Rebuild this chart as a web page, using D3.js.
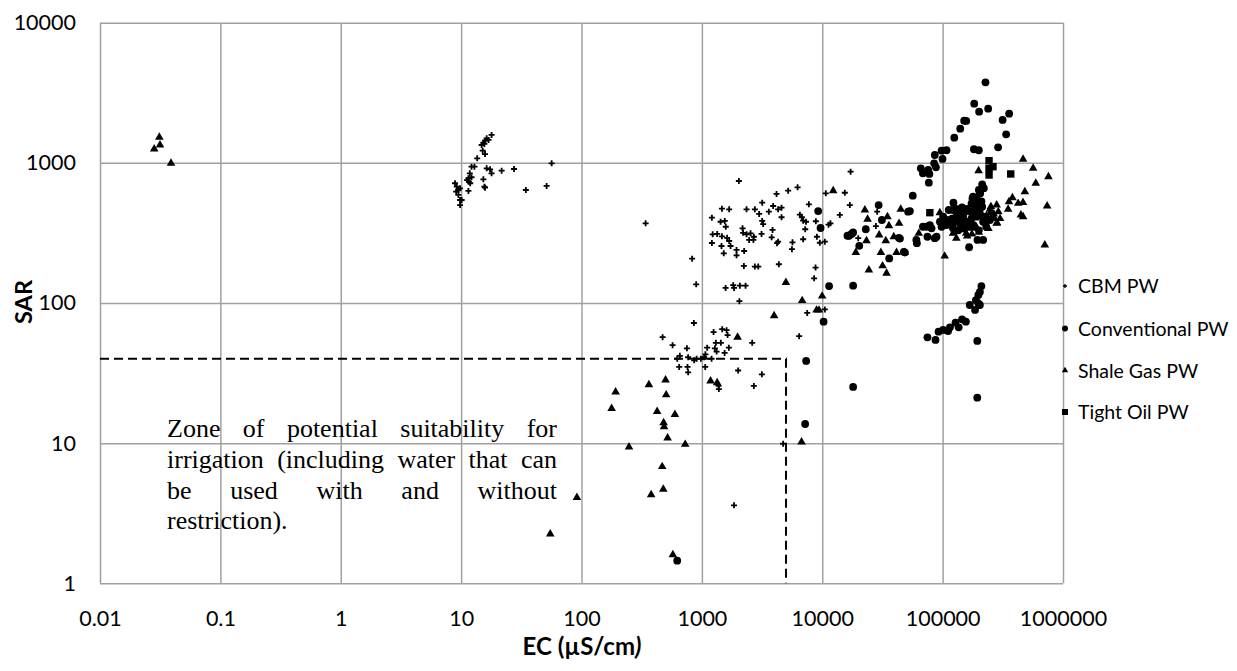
<!DOCTYPE html>
<html>
<head>
<meta charset="utf-8">
<script src="https://cdn.jsdelivr.net/npm/d3@7/dist/d3.min.js"></script>
<style>
  body { margin: 0; background: #fff; }
  text { font-family: Lato, "Open Sans", sans-serif; fill: #000; }
  .tick text { font-size: 21.5px; }
  .grid line { stroke: #a0a0a0; stroke-width: 1.5px; }
  .note { font-family: "Liberation Serif", "Times New Roman", serif; font-size: 26px; }
</style>
</head>
<body>
<svg width="1237" height="671"></svg>
<script>

// Data: [EC (uS/cm), SAR]
var cbmPW = [
  [17.9,1581],[16.3,1497],[16.9,1457],[15.8,1439],[15.3,1393],[14.8,1341],[15.6,1365],[15.1,1221],[15.8,1156],
  [13.6,1077],[12.2,939],[12.9,939],[11.8,842],[11.5,776],[11.6,734],[12.2,789],[11.2,754],[11.9,715],[11.5,630],
  [8.9,715],[9.2,676],[9.5,640],[9.8,658],[9.1,623],[9.5,590],[9.8,543],[10.1,543],[9.8,500],[15.3,763],[15.6,676],
  [15.8,665],[16.3,914],[17.4,899],[17.9,842],[21.7,879],[27.5,904],[56.5,993],[51.3,684],[34.5,640],
  [341,370],[830,207],[897,136],[1574,128],[1820,134],[1850,128],[2070,133],[2306,133],[2050,103],[858,72],
  [472,57],[571,50],[751,47.5],[656,42],[624,40],[648,35],[769,41],[760,35],[769,32],[863,39],[904,40],[981,40],
  [1045,41],[1070,43],[1107,48],[1066,35],[1204,40],[1251,62],[1475,65],[1604,64],[1635,59],[1307,52],[1438,52],
  [1282,47.5],[1325,45],[1545,44],[1676,48],[2618,52],[2001,33],[3150,31],[2704,25.6],[1384,24.3],[1376,25.6],
  [4732,9.9],[6430,58],[7500,85],[10510,90],[1850,3.6],
  [2029,742],[1211,406],[1467,471],[1686,466],[1430,380],[1550,385],[1580,350],[1230,309],[1340,311],[1467,299],
  [1620,292],[1686,277],[1211,268],[1455,255],[1520,226],[1730,255],[1941,239],[1941,219],[2245,235],[2350,466],
  [2755,466],[2992,432],[3170,520],[3170,385],[3230,366],[3600,448],[3910,492],[4300,466],[4590,479],[4590,409],
  [4170,600],[5210,633],[6240,669],[2178,341],[2200,317],[2350,309],[2537,314],[2704,297],[2470,282],[2680,282],
  [3130,311],[3865,332],[3800,294],[4300,274],[4210,267],[2234,184],[2755,182],[2940,182],[4360,189],[5660,271],
  [5600,242],[6940,285],[7740,506],[6520,427],[6770,409],[6940,387],[7330,380],[7220,336],[8850,383],[9030,297],
  [9550,269],[10510,274],[11280,362],[11700,370],[14000,425],[15400,612],[16950,500],[17200,865],[8800,179],
  [8560,150],[10700,606],[27900,354],[19900,290],[28600,448]
];

var conventionalPW = [
  [227000,3757],[183000,2643],[201000,2317],[239000,2434],[357000,2243],[315000,2023],[151000,2000],[157000,1990],
  [140000,1753],[125000,1512],[337000,1599],[289000,1291],[182000,1250],[200000,1230],[98000,1221],[107700,1230],
  [86100,1138],[99800,1066],[85000,993],[88000,929],[65900,914],[75800,889],[68600,842],[77600,833],[76800,722],
  [56500,583],[213000,703],[205000,606],[191000,558],[177000,558],[123000,520],[29400,500],[51700,448],[53500,453],
  [31300,391],[23000,336],[20300,256],[17500,311],[16200,302],[18050,319],[43300,292],[44200,288],[36000,208],
  [47600,232],[48600,229],[61100,267],[60500,282],[68600,350],[73500,350],[80900,341],[74800,297],[89000,297],
  [86100,290],[78300,360],[112500,461],[122000,461],[139000,461],[153000,448],[130000,413],[139000,391],[148000,413],
  [111000,380],[122000,370],[157000,380],[174000,402],[191000,413],[186000,436],[195000,282],[217000,282],
  [166000,250],[179000,573],[191000,543],[204000,606],[174000,514],[186000,474],[213000,487],[148000,436],
  [115000,391],[101000,413],[107700,360],[139000,370],[168000,380],[217000,380],[247000,391],[122000,341],[98000,350],
  [130000,470],[145000,480],[160000,470],[170000,450],[180000,430],[200000,450],[210000,420],[225000,410],
  [160000,350],[150000,340],[135000,330],[180000,360],[200000,330],[230000,350],[120000,400],[105000,395],
  [95000,380],[210000,530],[200000,640],[220000,660],[190000,500],[205000,470],
  [210000,132],[204000,120],[198000,114],[189000,105],[198000,99.5],[204000,96.8],[168000,96.8],[186000,89.2],
  [156000,73.6],[145000,76.5],[136000,67.1],[128000,72.4],[111000,63.1],[115000,67.1],[101000,64.2],[92500,62.4],
  [87300,54.5],[74800,56.9],[194000,53.6],[194000,21.1],
  [624,1.45],[7350,38.6],[7210,13.7],[11400,132],[10260,73.6],[9250,453],[9680,343],[18050,133],[16720,302],[18050,25.2]
];

var shaleGasPW = [
  [0.0311,1521],[0.0315,1341],[0.0282,1256],[0.0389,993],
  [178,17.7],[248,9.4],[91.6,4.1],[55,2.25],
  [4990,140],[6808,104],[9980,112],[8970,89],[9400,89],[3981,81],[1980,57],[192,23.2],[363,26.1],[499,28.2],
  [505,22.1],[425,16.8],[597,16],[481,14],[485,13.1],[519,10.9],[727,9.8],[468,6.8],[478,4.69],[379,4.29],
  [574,1.6],[1181,27.8],[1340,27],[6730,10.2],
  [12330,633],[22600,461],[23800,396],[34800,413],[35800,356],[43500,370],[44900,466],[29700,306],[33700,278],
  [39300,297],[23300,278],[19000,229],[30700,229],[41400,229],[31700,184],[34200,163],[24400,172],[63400,314],
  [104000,216],[48500,229],
  [466000,1060],[565000,914],[757000,797],[594000,715],[199000,879],[482000,623],[380000,564],[424000,514],
  [465000,521],[356000,528],[738000,492],[447000,425],[466000,413],[350000,466],[281000,500],[283000,374],
  [706000,259],[94800,441],[122000,314],[157000,314],[247000,466],[266000,432],[281000,370],[177000,341],
  [191000,347],[220000,396],[231000,417],[247000,436],[252000,487],[290000,448],[265000,413],
  [140000,350],[160000,300],[200000,320],[240000,340],[260000,400],[300000,400],[130000,290],[175000,310]
];

var tightOilPW = [
  [243000,1036],[243000,914],[262000,939],[243000,819],[368000,833],[78300,441]
];

var seriesNames = ["CBM PW", "Conventional PW", "Shale Gas PW", "Tight Oil PW"];
var xTicks = [0.01, 0.1, 1, 10, 100, 1000, 10000, 100000, 1000000];
var xTickLabels = ["0.01", "0.1", "1", "10", "100", "1000", "10000", "100000", "1000000"];
var yTicks = [1, 10, 100, 1000, 10000];
var yTickLabels = ["1", "10", "100", "1000", "10000"];
var zoneLimit = { ec: 5000, sar: 40 };
var zoneText = [
  "Zone of potential suitability for",
  "irrigation (including water that can",
  "be used with and without",
  "restriction)."
];

var svg = d3.select("svg");
var plotLeft = 100, plotRight = 1063, plotTop = 22.7, plotBottom = 583.3;

var x = d3.scaleLog().domain([0.01, 1000000]).range([plotLeft, plotRight]);
var y = d3.scaleLog().domain([1, 10000]).range([plotBottom, plotTop]);

// Gridlines + tick labels
svg.append("g")
    .attr("class", "grid")
    .attr("transform", "translate(0," + plotBottom + ")")
    .call(d3.axisBottom(x)
        .tickValues(xTicks)
        .tickFormat(function(d, i) { return xTickLabels[i]; })
        .tickSize(-(plotBottom - plotTop))
        .tickPadding(27))
    .call(function(g) { g.select(".domain").remove(); });

svg.append("g")
    .attr("class", "grid")
    .attr("transform", "translate(" + plotLeft + ",0)")
    .call(d3.axisLeft(y)
        .tickValues(yTicks)
        .tickFormat(function(d, i) { return yTickLabels[i]; })
        .tickSize(-(plotRight - plotLeft))
        .tickPadding(24))
    .call(function(g) { g.select(".domain").remove(); });

svg.selectAll(".tick text").attr("fill", "#000").style("font-family", "Lato, sans-serif");

// Dashed zone boundary
svg.append("path")
    .attr("d", "M" + x(0.01) + "," + y(zoneLimit.sar) + "H" + x(zoneLimit.ec) + "V" + y(1))
    .attr("fill", "none")
    .attr("stroke", "#000")
    .attr("stroke-width", 2)
    .attr("stroke-dasharray", "9,5");

// Markers
var plusPath = function(s) { return "M" + (-s) + ",0H" + s + "M0," + (-s) + "V" + s; };

svg.append("g").selectAll("path")
    .data(cbmPW).enter().append("path")
    .attr("transform", function(d) { return "translate(" + x(d[0]) + "," + y(d[1]) + ")"; })
    .attr("d", plusPath(3))
    .attr("stroke", "#000").attr("stroke-width", 1.8);

svg.append("g").selectAll("circle")
    .data(conventionalPW).enter().append("circle")
    .attr("cx", function(d) { return x(d[0]); })
    .attr("cy", function(d) { return y(d[1]); })
    .attr("r", 3.9)
    .attr("fill", "#000");

svg.append("g").selectAll("path")
    .data(shaleGasPW).enter().append("path")
    .attr("transform", function(d) { return "translate(" + x(d[0]) + "," + y(d[1]) + ")"; })
    .attr("d", d3.symbol(d3.symbolTriangle, 32)())
    .attr("fill", "#000");

svg.append("g").selectAll("rect")
    .data(tightOilPW).enter().append("rect")
    .attr("x", function(d) { return x(d[0]) - 3.7; })
    .attr("y", function(d) { return y(d[1]) - 3.7; })
    .attr("width", 7.4).attr("height", 7.4)
    .attr("fill", "#000");

// Legend
var legendY = [286, 328.5, 370.5, 412];
var legend = svg.append("g");
seriesNames.forEach(function(name, i) {
  var g = legend.append("g").attr("transform", "translate(1065," + legendY[i] + ")");
  if (i === 0) g.append("path").attr("d", plusPath(2)).attr("stroke", "#000").attr("stroke-width", 1.3);
  if (i === 1) g.append("circle").attr("r", 3).attr("fill", "#000");
  if (i === 2) g.append("path").attr("d", d3.symbol(d3.symbolTriangle, 18)()).attr("fill", "#000");
  if (i === 3) g.append("rect").attr("x", -3).attr("y", -3).attr("width", 6).attr("height", 6).attr("fill", "#000");
  g.append("text").attr("x", 13).attr("dy", "0.36em").style("font-size", "19.5px").text(name);
});

// Axis titles
svg.append("text")
    .attr("x", 582).attr("y", 655)
    .attr("text-anchor", "middle")
    .style("font-size", "24px").style("font-weight", "bold")
    .text("EC (µS/cm")
    .append("tspan").style("font-style", "italic").text(")");

svg.append("text")
    .attr("transform", "translate(32,302) rotate(-90)")
    .attr("text-anchor", "middle")
    .style("font-size", "23.5px").style("font-weight", "bold")
    .text("SAR");

// Justified annotation
var noteLeft = 167, noteRight = 557, noteTop = 437.3, lineGap = 30.7;
zoneText.forEach(function(line, i) {
  var words = line.split(" ");
  var t = svg.append("text").attr("class", "note").attr("y", noteTop + i * lineGap);
  var widths = words.map(function(w) {
    var tmp = t.append("tspan").text(w);
    var wd = tmp.node().getComputedTextLength();
    tmp.remove();
    return wd;
  });
  var last = i === zoneText.length - 1;
  var gap = last ? 6.5 : (noteRight - noteLeft - d3.sum(widths)) / (words.length - 1);
  var cx = noteLeft;
  words.forEach(function(w, j) {
    t.append("tspan").attr("x", cx).text(w);
    cx += widths[j] + gap;
  });
});

</script>
</body>
</html>
